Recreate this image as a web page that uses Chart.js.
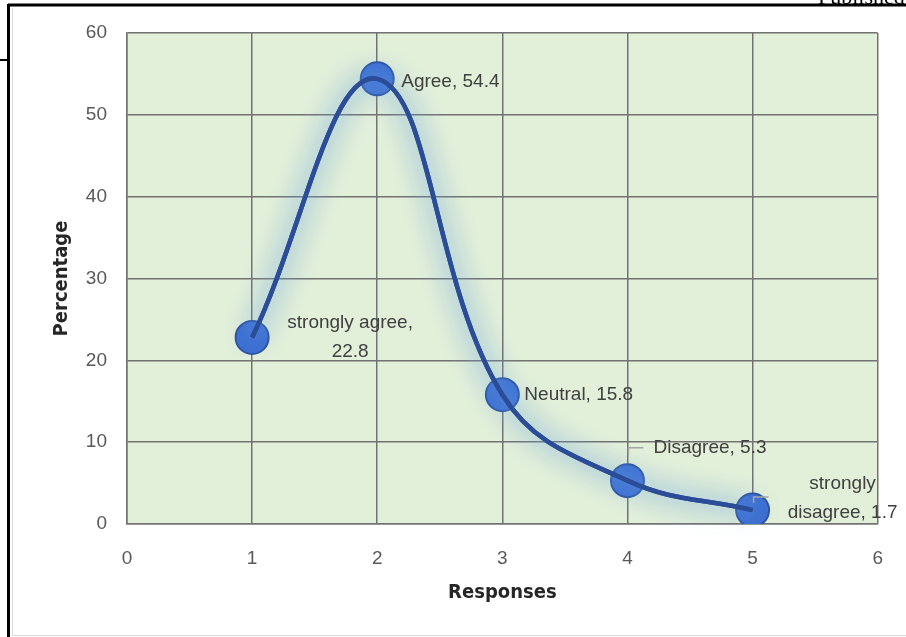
<!DOCTYPE html>
<html><head><meta charset="utf-8">
<script src="https://cdn.jsdelivr.net/npm/chart.js@4/dist/chart.umd.min.js"></script>
<style>html,body{margin:0;padding:0;background:#fff}#wrap{position:relative;width:906px;height:637px}</style>
</head><body><div id="wrap"><canvas id="c" width="906" height="637"></canvas></div>
<script>
// Survey responses: position on the scale and share of respondents (%)
const responses = [1, 2, 3, 4, 5];
const percentages = [22.8, 54.4, 15.8, 5.3, 1.7];
const responseNames = ['strongly agree', 'Agree', 'Neutral', 'Disagree', 'strongly disagree'];
const xTicks = [0, 1, 2, 3, 4, 5, 6];
const yTicks = [0, 10, 20, 30, 40, 50, 60];

const FONT = "'Liberation Sans','Arial',sans-serif";
const TITLE_FONT = "'Liberation Sans Narrow','DejaVu Sans Condensed',sans-serif";
const points = responses.map((x, i) => ({ x, y: percentages[i] }));

// How each data label is placed next to its marker
const labelLayout = [
  { dx: 98, dy: 0, align: 'center', lines: (n, v) => [n + ',', String(v)] },
  { dx: 24, dy: 3, align: 'left', lines: (n, v) => [n + ', ' + v] },
  { dx: 22, dy: 0, align: 'left', lines: (n, v) => [n + ', ' + v] },
  { dx: 26, dy: -33, align: 'left', lines: (n, v) => [n + ', ' + v], leader: true },
  { dx: 90, dy: -12, align: 'center', lines: (n, v) => { const p = n.split(' '); return [p[0], p[1] + ', ' + v]; }, leader: true }
];

const pagePlugin = {
  id: 'page',
  beforeDraw(chart) {
    const { ctx, chartArea: a } = chart;
    ctx.save();
    ctx.fillStyle = '#fff';
    ctx.fillRect(0, 0, chart.width, chart.height);
    // page frame
    ctx.strokeStyle = '#000';
    ctx.lineWidth = 3;
    ctx.beginPath();
    ctx.moveTo(8, 5); ctx.lineTo(906, 5);
    ctx.moveTo(8.5, 4); ctx.lineTo(8.5, 637);
    ctx.stroke();
    ctx.lineWidth = 2;
    ctx.beginPath();
    ctx.moveTo(0, 60); ctx.lineTo(9, 60);
    ctx.stroke();
    ctx.strokeStyle = '#d9d9d9';
    ctx.lineWidth = 1;
    ctx.beginPath();
    ctx.moveTo(12.5, 8); ctx.lineTo(12.5, 636);
    ctx.moveTo(12, 635.5); ctx.lineTo(906, 635.5);
    ctx.stroke();
    ctx.fillStyle = '#000';
    ctx.font = "22px 'Liberation Serif', serif";
    ctx.textAlign = 'left';
    ctx.textBaseline = 'alphabetic';
    ctx.fillText('Published by', 818, 4);
    // plot area fill
    ctx.fillStyle = '#e2efd9';
    ctx.fillRect(a.left, a.top, a.right - a.left, a.bottom - a.top);
    ctx.restore();
  },
  beforeDatasetDraw(chart, args) {
    if (args.index === 0) {
      const ctx = chart.ctx;
      ctx.save();
      ctx.shadowColor = 'rgba(110,165,225,0.95)';
      ctx.shadowBlur = 26;
    }
  },
  afterDatasetDraw(chart, args) {
    if (args.index === 0) {
      // second pass to strengthen the soft glow around the curve
      chart.getDatasetMeta(0).dataset.draw(chart.ctx, chart.chartArea);
      chart.ctx.restore();
    }
  },
  afterDatasetsDraw(chart) {
    const { ctx } = chart;
    const xs = chart.scales.x, ys = chart.scales.y;
    ctx.save();
    ctx.font = '19px ' + FONT;
    ctx.fillStyle = '#404040';
    ctx.textBaseline = 'middle';
    percentages.forEach((v, i) => {
      const L = labelLayout[i];
      const px = xs.getPixelForValue(responses[i]);
      const py = ys.getPixelForValue(v);
      const lines = L.lines(responseNames[i], v);
      const lh = 29;
      const y0 = py + L.dy - (lines.length - 1) * lh / 2;
      ctx.textAlign = L.align;
      lines.forEach((t, k) => ctx.fillText(t, px + L.dx, y0 + k * lh));
      if (L.leader) {
        ctx.strokeStyle = '#a6a6a6';
        ctx.lineWidth = 1.5;
        ctx.beginPath();
        const ty = i === 3 ? py - 33 : py - 13;
        ctx.moveTo(px + 1, ty + 6);
        ctx.lineTo(px + 1, ty);
        ctx.lineTo(px + 16, ty);
        ctx.stroke();
      }
    });
    ctx.restore();
  }
};

new Chart(document.getElementById('c'), {
  type: 'line',
  data: {
    datasets: [
      {
        data: points,
        borderColor: '#2b4c96',
        borderWidth: 4.5,
        tension: 0.4,
        pointRadius: 0,
        fill: false
      },
      {
        data: points,
        showLine: false,
        pointRadius: 16.5,
        pointBackgroundColor: '#3c6ed2',
        pointBorderColor: '#2c52a0',
        pointBorderWidth: 2
      }
    ]
  },
  options: {
    responsive: false,
    animation: false,
    devicePixelRatio: 1,
    layout: { padding: { left: 50, top: 33, right: 17, bottom: 28 } },
    plugins: { legend: { display: false }, tooltip: { enabled: false } },
    scales: {
      x: {
        type: 'linear',
        min: xTicks[0], max: xTicks[xTicks.length - 1],
        afterBuildTicks: s => { s.ticks = xTicks.map(v => ({ value: v })); },
        afterFit: s => { s.height = 85; },
        grid: { color: '#737373', lineWidth: 1.5, drawTicks: false },
        border: { color: '#737373', width: 1.5 },
        ticks: { padding: 23, color: '#595959', font: { family: FONT, size: 19 } },
        title: { display: true, text: 'Responses', color: '#262626', font: { family: TITLE_FONT, size: 20, weight: 'bold' }, padding: { top: 0, bottom: 4 } }
      },
      y: {
        min: yTicks[0], max: yTicks[yTicks.length - 1],
        afterBuildTicks: s => { s.ticks = yTicks.map(v => ({ value: v })); },
        afterFit: s => { s.width = 77; },
        grid: { color: '#737373', lineWidth: 1.5, drawTicks: false },
        border: { color: '#737373', width: 1.5 },
        ticks: { padding: 20, color: '#595959', font: { family: FONT, size: 19 } },
        title: { display: true, text: 'Percentage', color: '#262626', font: { family: TITLE_FONT, size: 20, weight: 'bold' }, padding: { top: 0, bottom: 0 } }
      }
    }
  },
  plugins: [pagePlugin]
});
</script></body></html>
